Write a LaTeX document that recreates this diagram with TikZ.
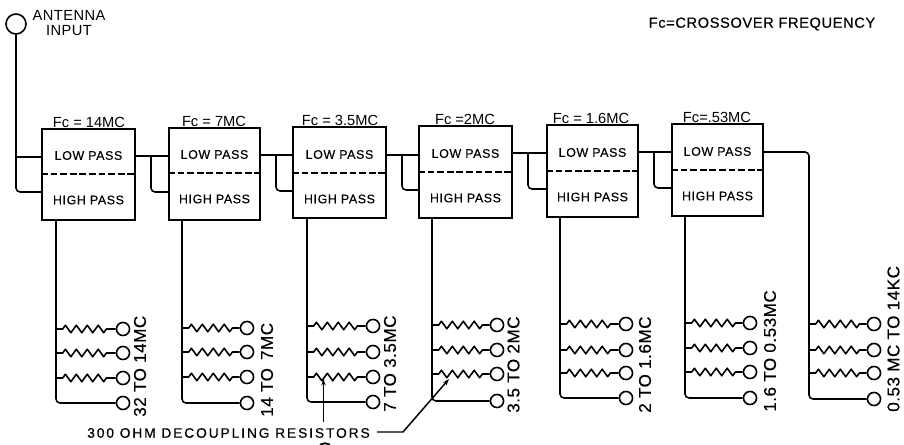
\documentclass[tikz,border=0pt]{standalone}
\usepackage{fontspec}
\setmainfont{Liberation Sans}
\usetikzlibrary{decorations.pathmorphing,arrows.meta}
\tikzset{
  x=0.75pt,y=-0.75pt,
  wire/.style={line width=1.2pt,line join=round},
  bendwire/.style={wire,rounded corners=3pt},
  filterbox/.style={draw,line width=1.4pt,inner sep=0pt,rectangle},
  terminal/.style={draw,circle,line width=1.2pt,minimum size=9.8pt,inner sep=0pt,fill=white},
  resistor/.style={wire,decorate,decoration={zigzag,segment length=8.2pt,amplitude=2.8pt,pre length=5pt,post length=4pt}},
  passlabel/.style={font=\fontsize{9.3}{10}\selectfont\addfontfeatures{LetterSpace=5,FakeBold=0.4},inner sep=0pt},
  fclabel/.style={font=\fontsize{11}{12}\selectfont,inner sep=0pt},
  bandlabel/.style={font=\fontsize{12.8}{13}\selectfont\addfontfeatures{LetterSpace=3,FakeBold=0.5},rotate=90,inner sep=0pt},
  toplabel/.style={font=\fontsize{11}{11}\selectfont\addfontfeatures{LetterSpace=3},inner sep=0pt},
  leader/.style={line width=1.1pt,-{Stealth[length=5pt,width=3.4pt]}},
}
\begin{document}
\begin{tikzpicture}
\useasboundingbox (0,0) rectangle (904,445);
% top labels
\node[terminal,minimum size=15pt] (ant) at (16,24) {};
\node[toplabel,align=center] (antlabel) at (69,23) {ANTENNA\\INPUT};
\node[font=\fontsize{11}{12}\selectfont\addfontfeatures{LetterSpace=4,FakeBold=0.3},inner sep=0pt] (note) at (762,24) {Fc=CROSSOVER FREQUENCY};
% filter boxes: index / left / right / top / bottom / dash y / Fc text
\foreach \i/\l/\r/\t/\b/\d/\fc/\fx in {
  1/42/135/129/220/174/{Fc = 14MC}/89,
  2/169/260/128/220/173/{Fc = 7MC}/214,
  3/293/386/127/218/173/{Fc = 3.5MC}/340,
  4/419/512/126/218/172/{Fc =2MC}/465,
  5/547/638/125/217/171/{Fc = 1.6MC}/591,
  6/672/763/124/216/170/{Fc=.53MC}/717}{
  \node[filterbox,minimum width=\the\dimexpr(\r pt-\l pt)*3/4\relax,minimum height=\the\dimexpr(\b pt-\t pt)*3/4\relax] (f\i) at ({(\l+\r)/2},{(\t+\b)/2}) {};
  \draw[line width=1.2pt,dash pattern=on 5pt off 2.2pt] (f\i.west |- 0,\d) -- (f\i.east |- 0,\d);
  \node[passlabel] (low\i) at ({(\l+\r)/2},{\d-18.5}) {LOW PASS};
  \node[passlabel] (high\i) at ({(\l+\r)/2},{\d+26}) {HIGH PASS};
  \node[fclabel,anchor=south] (fc\i) at (\fx,\t-1.5) {\fc};
}
% antenna feed
\coordinate (j0) at (16,157);
\coordinate (h0) at (16,192);
\draw[bendwire] (ant) -- (h0) -- (f1.west |- h0);
\draw[bendwire] (j0) -- (f1.west |- j0);
% chain between the boxes: from / to / link y / branch x / high y
\foreach \a/\n/\y/\x/\h in {1/2/156/151/192,2/3/155/276/191,3/4/155/402/190,4/5/153/528/189,5/6/152/654/188}{
  \coordinate (j\a) at (\x,\y);
  \coordinate (h\a) at (\x,\h);
  \draw[wire] (f\a.east |- j\a) -- (f\n.west |- j\a);
  \draw[bendwire] (j\a) -- (h\a) -- (f\n.west |- h\a);
}
% last low-pass output
\coordinate (c7) at (809,152);
% output groups: index / stem x / terminal x / y1 / y2 / y3 / bottom y
\foreach \i/\s/\c/\ya/\yb/\yc/\yd in {
  1/56/123/329/353/378/403,
  2/182/247/328/352/377/403,
  3/307/373/326/352/377/402,
  4/432/497/325/350/374/401,
  5/560/626/324/350/373/398,
  6/685/750/323/348/372/398,
  7/809/874/324/350/373/399}{
  \coordinate (corner\i) at (\s,\yd);
  \foreach \k/\yy in {1/\ya,2/\yb,3/\yc}{
    \node[terminal] (t\i-\k) at (\c,\yy) {};
    \coordinate (r\i-\k) at (\s,\yy);
    \draw[resistor] (r\i-\k) -- (t\i-\k.west);
  }
  \node[terminal] (t\i-4) at (\c,\yd) {};
}
\foreach \i in {1,...,6}{
  \draw[bendwire] (f\i.south -| corner\i) -- (corner\i) -- (t\i-4.west);
}
\draw[bendwire] (f6.east |- c7) -- (c7) -- (corner7) -- (t7-4.west);
% rotated range labels
\node[bandlabel,anchor=west] (band1) at (140,417) {32 TO 14MC};
\node[bandlabel,anchor=west] (band2) at (267,417) {14 TO\, 7MC};
\node[bandlabel,anchor=west] (band3) at (390,412) {7 TO 3.5MC};
\node[bandlabel,anchor=west] (band4) at (513.5,413) {3.5 TO 2MC};
\node[bandlabel,anchor=west] (band5) at (645,413) {2 TO 1.6MC};
\node[bandlabel,anchor=west] (band6) at (770,412) {1.6 TO 0.53MC};
\node[bandlabel,anchor=west] (band7) at (893.5,412) {0.53 MC TO 14KC};
% decoupling label and its leaders
\node[font=\fontsize{10.3}{11}\selectfont\addfontfeatures{LetterSpace=14,FakeBold=0.5},inner sep=0pt,anchor=west] (dec) at (87,433) {300 OHM DECOUPLING RESISTORS};
\coordinate (arrowA) at (323.5,379);
\coordinate (arrowB) at (449,379);
\coordinate (startA) at (323.5,422);
\coordinate (startB) at (377,432);
\coordinate (elbow) at (403,432);
\draw[leader] (startA) -- (arrowA);
\draw[leader] (startB) -- (elbow) -- (arrowB);
% clipped mark at the lower page edge
\draw[line width=1.3pt] (319,447) .. controls (320,442) and (330,442) .. (331,447);
\end{tikzpicture}
\end{document}
